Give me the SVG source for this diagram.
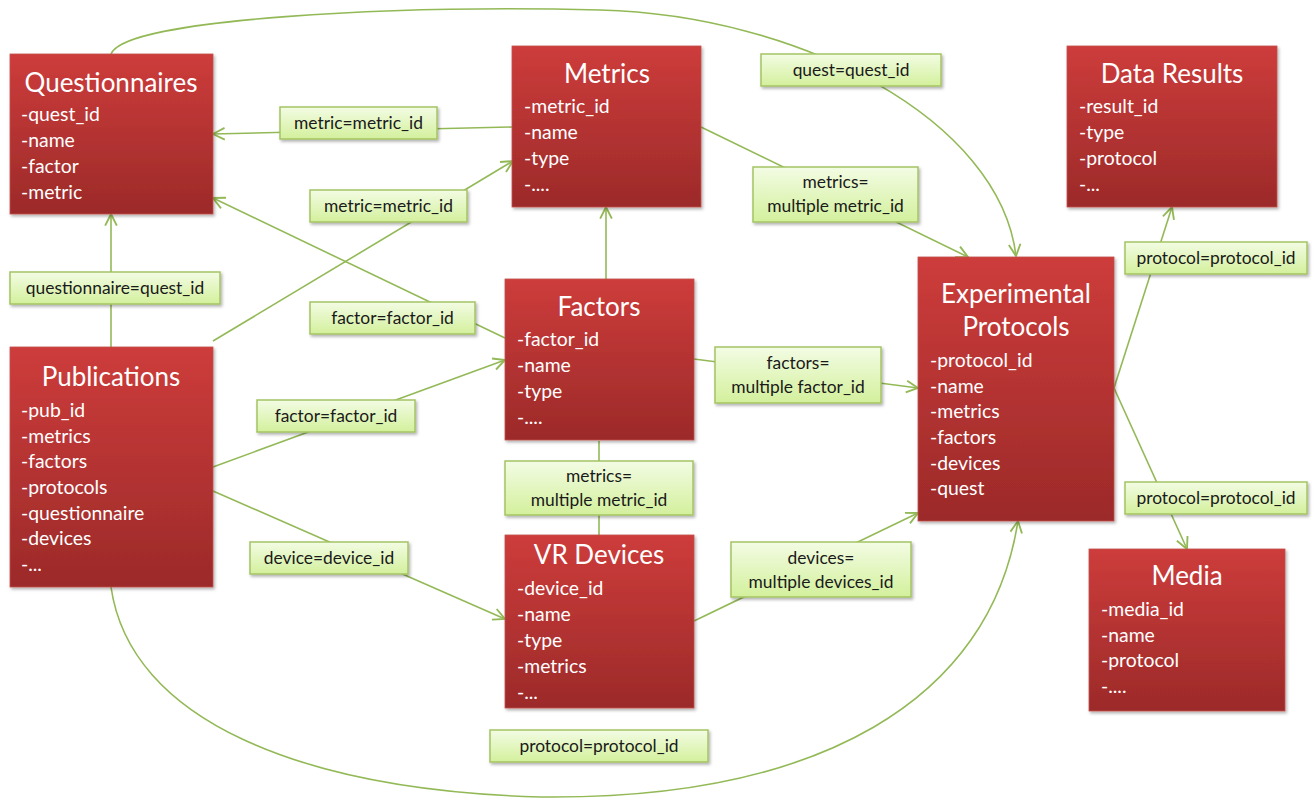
<svg xmlns="http://www.w3.org/2000/svg" width="1313" height="800" viewBox="0 0 1313 800">
<defs>
<linearGradient id="gRed" x1="0" y1="0" x2="0" y2="1">
<stop offset="0" stop-color="#cd3c3b"/>
<stop offset="1" stop-color="#9c2a29"/>
</linearGradient>
<linearGradient id="gGreen" x1="0" y1="0" x2="0" y2="1">
<stop offset="0" stop-color="#f3fce4"/>
<stop offset="1" stop-color="#d3f09c"/>
</linearGradient>
<filter id="sh" x="-10%" y="-10%" width="130%" height="130%">
<feDropShadow dx="1.5" dy="2" stdDeviation="1.5" flood-color="#000" flood-opacity="0.3"/>
</filter>
<marker id="arr" markerUnits="userSpaceOnUse" markerWidth="14" markerHeight="14" viewBox="0 0 12 12" refX="11" refY="6" orient="auto">
<path d="M1,1 L11,6 L1,11" fill="none" stroke="#93b957" stroke-width="1.6"/>
</marker>
</defs>
<style>
.node rect{fill:url(#gRed);stroke:#c0504d;stroke-width:0.8;filter:url(#sh)}
.title{font-family:"Lato","Liberation Sans",sans-serif;font-size:26px;fill:#fff;text-anchor:middle}
.item{font-family:"Lato","Liberation Sans",sans-serif;font-size:19.4px;fill:#fff}
.lbl rect{fill:url(#gGreen);stroke:#a4c463;stroke-width:1.5;filter:url(#sh)}
.lbl text{font-family:"Lato","Liberation Sans",sans-serif;font-size:17.4px;fill:#1a1a1a;text-anchor:middle}
.conn path{fill:none;stroke:#93b957;stroke-width:1.6}
.a{marker-end:url(#arr)}
</style>
<rect width="1313" height="800" fill="#fff"/>
<g id="connectors" class="conn">
<path class="a" d="M513,127 L213,134"/>
<path class="a" d="M213,341 L513,161"/>
<path class="a" d="M505,338 L213,198"/>
<path class="a" d="M213,467 L505,360"/>
<path class="a" d="M213,491 L505,619"/>
<path class="a" d="M111,347 L111,214"/>
<path class="a" d="M606,279 L606,207"/>
<path d="M599,441 L599,535"/>
<path class="a" d="M694,359 L918,388"/>
<path class="a" d="M694,621 L918,513"/>
<path class="a" d="M701,127 L968,257"/>
<path class="a" d="M111,54 C125,18 400,5 600,10 C800,15 1000,120 1016,256"/>
<path class="a" d="M111,587 C130,720 300,790 540,797 C820,800 990,700 1018,521"/>
<path class="a" d="M1114,388 L1172,207"/>
<path class="a" d="M1114,388 L1187,549"/>
</g>
<g id="labels">
<g id="lbl-q-metric" class="lbl"><rect x="280" y="107" width="157" height="32"/><text x="358.5" y="128.5">metric=metric_id</text></g>
<g id="lbl-pub-metric" class="lbl"><rect x="310" y="190" width="157" height="32"/><text x="388.5" y="211.5">metric=metric_id</text></g>
<g id="lbl-quest" class="lbl"><rect x="761" y="54" width="180" height="32"/><text x="851" y="75.5">quest=quest_id</text></g>
<g id="lbl-metrics-ep" class="lbl"><rect x="753" y="167" width="165" height="55"/><text x="835.5" y="188">metrics=</text><text x="835.5" y="211.5">multiple metric_id</text></g>
<g id="lbl-questionnaire" class="lbl"><rect x="10" y="272" width="210" height="32"/><text x="115" y="293.5">questionnaire=quest_id</text></g>
<g id="lbl-q-factor" class="lbl"><rect x="310" y="302" width="165" height="32"/><text x="392.5" y="323.5">factor=factor_id</text></g>
<g id="lbl-pub-factor" class="lbl"><rect x="257" y="400" width="158" height="32"/><text x="336" y="421.5">factor=factor_id</text></g>
<g id="lbl-device" class="lbl"><rect x="250" y="542" width="158" height="32"/><text x="329" y="563.5">device=device_id</text></g>
<g id="lbl-factors-ep" class="lbl"><rect x="715" y="347" width="166" height="56"/><text x="798" y="369">factors=</text><text x="798" y="392.5">multiple factor_id</text></g>
<g id="lbl-metrics-vr" class="lbl"><rect x="505" y="461" width="188" height="54"/><text x="599" y="482">metrics=</text><text x="599" y="505.5">multiple metric_id</text></g>
<g id="lbl-devices-ep" class="lbl"><rect x="731" y="542" width="180" height="55"/><text x="821" y="564">devices=</text><text x="821" y="587.5">multiple devices_id</text></g>
<g id="lbl-pub-protocol" class="lbl"><rect x="490" y="730" width="218" height="32"/><text x="599" y="751.5">protocol=protocol_id</text></g>
<g id="lbl-dr-protocol" class="lbl"><rect x="1125" y="242" width="182" height="32"/><text x="1216" y="263.5">protocol=protocol_id</text></g>
<g id="lbl-media-protocol" class="lbl"><rect x="1125" y="482" width="182" height="32"/><text x="1216" y="503.5">protocol=protocol_id</text></g>
</g>
<g id="questionnaires" class="node"><rect x="10" y="54" width="203" height="160"/>
<text class="title" x="111" y="92">Questionnaires</text>
<text class="item" x="21" y="121">-quest_id</text><text class="item" x="21" y="147">-name</text><text class="item" x="21" y="173">-factor</text><text class="item" x="21" y="199">-metric</text></g>
<g id="metrics" class="node"><rect x="512" y="46" width="189" height="161"/>
<text class="title" x="607" y="83">Metrics</text>
<text class="item" x="524" y="113">-metric_id</text><text class="item" x="524" y="139">-name</text><text class="item" x="524" y="165">-type</text><text class="item" x="524" y="191">-....</text></g>
<g id="data-results" class="node"><rect x="1067" y="46" width="210" height="161"/>
<text class="title" x="1172" y="83">Data Results</text>
<text class="item" x="1079" y="113">-result_id</text><text class="item" x="1079" y="139">-type</text><text class="item" x="1079" y="165">-protocol</text><text class="item" x="1079" y="191">-...</text></g>
<g id="publications" class="node"><rect x="10" y="347" width="203" height="240"/>
<text class="title" x="111" y="386">Publications</text>
<text class="item" x="21" y="417">-pub_id</text><text class="item" x="21" y="443">-metrics</text><text class="item" x="21" y="468">-factors</text><text class="item" x="21" y="494">-protocols</text><text class="item" x="21" y="520">-questionnaire</text><text class="item" x="21" y="545">-devices</text><text class="item" x="21" y="571">-...</text></g>
<g id="factors" class="node"><rect x="505" y="279" width="189" height="161"/>
<text class="title" x="599" y="316">Factors</text>
<text class="item" x="517" y="346">-factor_id</text><text class="item" x="517" y="372">-name</text><text class="item" x="517" y="398">-type</text><text class="item" x="517" y="424">-....</text></g>
<g id="vr-devices" class="node"><rect x="505" y="535" width="189" height="173"/>
<text class="title" x="599" y="564">VR Devices</text>
<text class="item" x="517" y="595">-device_id</text><text class="item" x="517" y="621">-name</text><text class="item" x="517" y="647">-type</text><text class="item" x="517" y="673">-metrics</text><text class="item" x="517" y="699">-...</text></g>
<g id="experimental-protocols" class="node"><rect x="918" y="257" width="196" height="264"/>
<text class="title" x="1016" y="303">Experimental</text><text class="title" x="1016" y="336">Protocols</text>
<text class="item" x="930" y="367">-protocol_id</text><text class="item" x="930" y="393">-name</text><text class="item" x="930" y="418">-metrics</text><text class="item" x="930" y="444">-factors</text><text class="item" x="930" y="470">-devices</text><text class="item" x="930" y="495">-quest</text></g>
<g id="media" class="node"><rect x="1089" y="549" width="196" height="162"/>
<text class="title" x="1187" y="585">Media</text>
<text class="item" x="1101" y="616">-media_id</text><text class="item" x="1101" y="642">-name</text><text class="item" x="1101" y="667">-protocol</text><text class="item" x="1101" y="693">-....</text></g>
</svg>
